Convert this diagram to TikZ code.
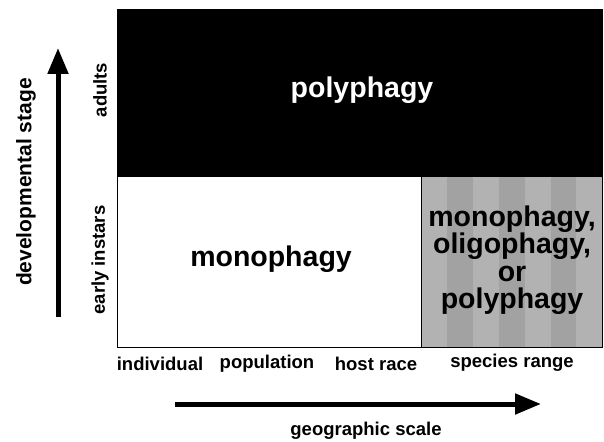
\documentclass[tikz,border=0pt]{standalone}
\usepackage{fontspec}
\setmainfont{Liberation Sans}
\usetikzlibrary{arrows.meta}
\definecolor{grayA}{HTML}{B2B2B2}
\definecolor{grayB}{HTML}{A2A2A2}
\tikzset{
  lbl/.style={font=\fontsize{18.5}{20}\selectfont\bfseries, inner sep=0pt},
  big/.style={font=\fontsize{28.5}{27.5}\selectfont\bfseries, inner sep=0pt, align=center},
  axisarrow/.style={line width=5pt, -{Triangle[width=20pt,length=26pt]}},
}
\begin{document}
\begin{tikzpicture}[x=1pt,y=-1pt]
\useasboundingbox (0,0) rectangle (604,441);
\fill[white] (0,0) rectangle (604,441);
% top black region
\fill[black] (117,10) rectangle (602,177);
% gray region with stripes
\fill[grayA] (421,177) rectangle (602,347);
\foreach \i in {1,3,5} {
  \fill[grayB] ({421+\i*25.9},177) rectangle ({421+(\i+1)*25.9},347);
}
% outlines
\draw[line width=1pt] (117,10) rectangle (602,347);
\draw[line width=1pt] (421,177) -- (421,347);
% texts in regions
\node[big, text=white] (poly) at (362,90) {polyphagy};
\node[big] (mono) at (271,259) {monophagy};
\node[big] (mixed) at (512,260) {monophagy,\\oligophagy,\\or\\polyphagy};
% axis category labels
\node[lbl] (ind) at (160,364) {individual};
\node[lbl] (pop) at (267,364) {population};
\node[lbl] (host) at (376,364) {host race};
\node[lbl] (spec) at (512,363) {species range};
\node[lbl, rotate=90] (adu) at (100,90) {adults};
\node[lbl, rotate=90] (early) at (100,260) {early instars};
% axis titles
\node[font=\fontsize{21}{23}\selectfont\bfseries, inner sep=0pt, rotate=90] (dev) at (26,182) {developmental stage};
\node[lbl] (geo) at (366,431) {geographic scale};
% arrows
\coordinate (vS) at (58,317);
\coordinate (vE) at (58,48);
\coordinate (hS) at (175,404);
\coordinate (hE) at (541,404);
\draw[axisarrow] (vS) -- (vE);
\draw[axisarrow] (hS) -- (hE);
\end{tikzpicture}
\end{document}
